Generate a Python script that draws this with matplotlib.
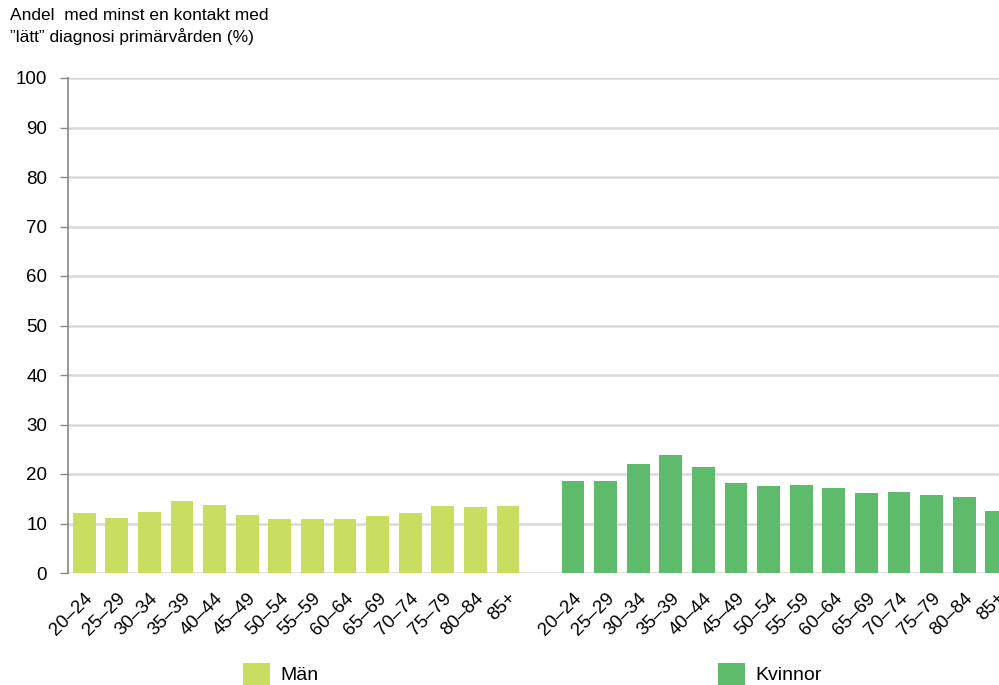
import matplotlib
matplotlib.use("Agg")
import matplotlib.pyplot as plt
import numpy as np

plt.rcParams['font.family'] = ['Liberation Sans', 'DejaVu Sans']

age_groups = ["20–24", "25–29", "30–34", "35–39", "40–44", "45–49", "50–54",
              "55–59", "60–64", "65–69", "70–74", "75–79", "80–84", "85+"]
men = [12.2, 11.2, 12.4, 14.5, 13.7, 11.8, 11.0, 11.0, 11.0, 11.6, 12.2, 13.5, 13.3, 13.5]
women = [18.6, 18.6, 22.0, 23.9, 21.4, 18.2, 17.6, 17.8, 17.2, 16.1, 16.4, 15.7, 15.3, 12.5]
y_ticks = [0, 10, 20, 30, 40, 50, 60, 70, 80, 90, 100]

men_color = "#c9dd60"
women_color = "#5dbb6b"

W, H = 999, 685
fig = plt.figure(figsize=(W / 100, H / 100), dpi=100)

n = len(age_groups)
x_men = np.arange(n)
x_women = np.arange(n) + n + 1
x_left, x_right = -0.5, 2 * n + 0.5

# axes extends past the right edge of the figure
ax_l, ax_r = 68, 1013
ax_b, ax_t = 573, 78
ax = fig.add_axes([ax_l / W, (H - ax_b) / H, (ax_r - ax_l) / W, (ax_b - ax_t) / H])

bw = 0.70
b1 = ax.bar(x_men, men, width=bw, color=men_color, label="Män", zorder=3)
b2 = ax.bar(x_women, women, width=bw, color=women_color, label="Kvinnor", zorder=3)

ax.set_xlim(x_left, x_right)
ax.set_ylim(0, 100)
ax.set_yticks(y_ticks)
ax.set_yticklabels([str(v) for v in y_ticks], fontsize=13.5)
ax.yaxis.grid(True, color="#d9d9d9", linewidth=1.8, zorder=0)
ax.set_axisbelow(True)

ax.set_xticks(np.concatenate([x_men, x_women]))
ax.set_xticklabels(age_groups + age_groups, rotation=45, ha="right",
                   rotation_mode="anchor", fontsize=13.5)
ax.tick_params(axis="x", length=0, pad=12)
ax.tick_params(axis="y", length=6, color="#888888", width=1, pad=9)

for side in ["top", "right", "bottom"]:
    ax.spines[side].set_visible(False)
ax.spines["left"].set_color("#888888")
ax.spines["left"].set_linewidth(1.2)

fig.text(10 / W, 1 - 8 / H,
         "Andel  med minst en kontakt med\n”lätt” diagnosi primärvården (%)",
         ha="left", va="top", fontsize=12.5, linespacing=1.35)

legend_kw = dict(loc="center left", frameon=False, fontsize=14, handlelength=1.4,
                 handleheight=1.4, handletextpad=0.5, borderpad=0, borderaxespad=0)
fig.legend(handles=[b1], bbox_to_anchor=(243 / W, 1 - 674 / H), **legend_kw)
fig.legend(handles=[b2], bbox_to_anchor=(718 / W, 1 - 674 / H), **legend_kw)

fig.savefig("out.png", dpi=100)
